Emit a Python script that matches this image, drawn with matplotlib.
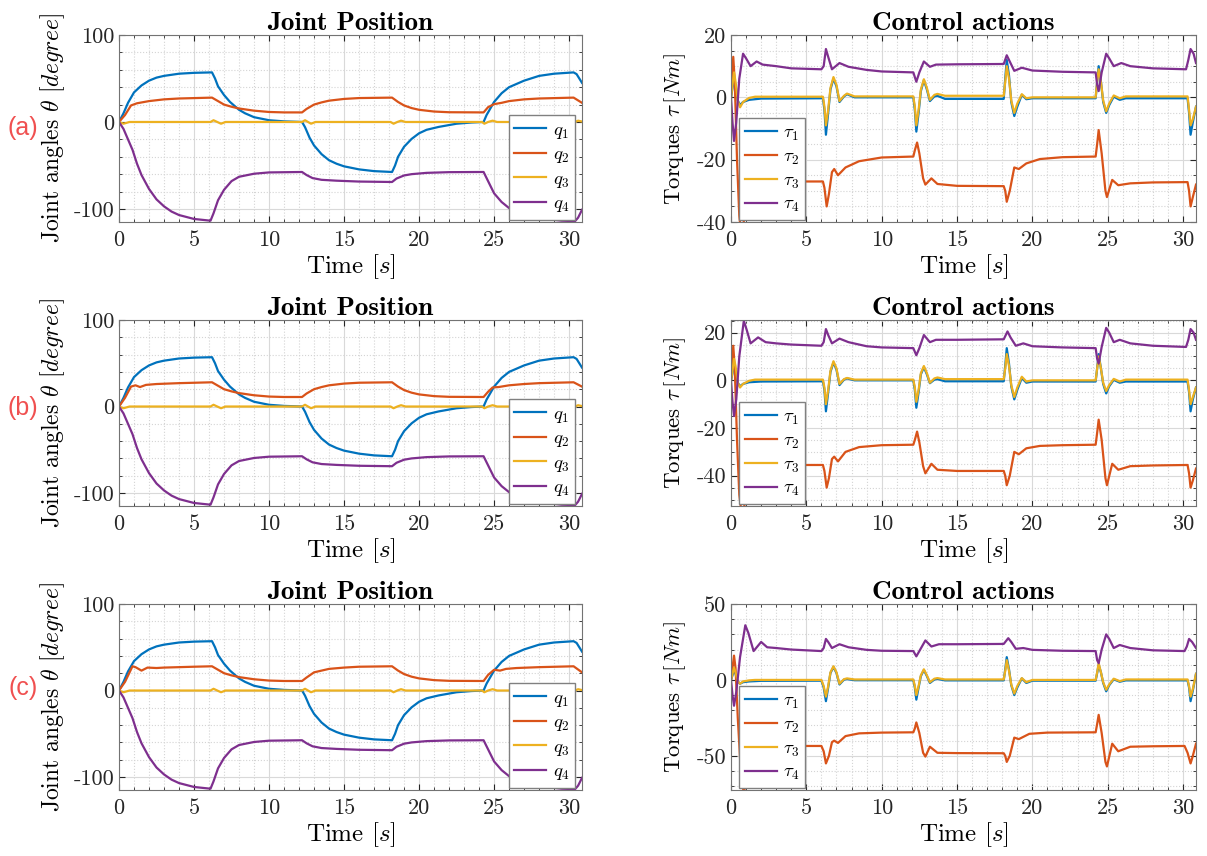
import matplotlib
matplotlib.use("Agg")
import matplotlib.pyplot as plt
from matplotlib.ticker import MultipleLocator

plt.rcParams["font.family"] = "cmr10"
plt.rcParams["mathtext.fontset"] = "cm"
plt.rcParams["axes.formatter.use_mathtext"] = False
plt.rcParams["axes.unicode_minus"] = False

# --- time axis ---
T_MAX = 30.86

# --- Joint positions (t, degree) ---
q1_pts = [(0, 0), (0.3, 10), (0.6, 22), (1, 34), (1.5, 42), (2, 47.5), (2.5, 51), (3, 53),
          (4, 55.5), (5, 56.5), (6.2, 57), (6.4, 50), (6.6, 41), (7, 31), (7.4, 23), (8, 14),
          (8.4, 10), (9, 5.5), (10, 2), (11, 0.7), (12.2, 0), (12.4, -6), (12.7, -18), (13, -27),
          (13.5, -37), (14, -44), (14.5, -48), (15, -51), (16, -54.5), (17, -56.5), (18.2, -57.5),
          (18.4, -50), (18.6, -40), (19, -28.5), (19.5, -19.5), (20, -13), (20.5, -9), (21.3, -5.7),
          (22.5, -2), (23.5, -0.6), (24.3, 0), (24.5, 8), (25, 23), (25.5, 33), (26, 40),
          (27, 47.5), (28, 53), (29, 55.5), (30.3, 57), (30.5, 55), (30.86, 45)]

q3_pts = [(0, 0), (0.3, -2), (0.7, 0), (6.1, 0), (6.3, 2), (6.55, 0), (6.8, -2), (7.1, 0),
          (12.2, 0), (12.4, 2), (12.6, 0), (12.8, -2), (13.1, 0), (18.1, 0), (18.3, -2),
          (18.55, 0), (18.8, 1.5), (19.1, 0), (24.2, 0), (24.35, -2), (24.6, 0), (24.9, 1.5),
          (25.2, 0), (30.4, 0), (30.6, 1.5), (30.86, 0.5)]

q4_pts = [(0, 0), (0.3, -8), (0.6, -20), (0.9, -32), (1.2, -48), (1.5, -61), (2, -77),
          (2.5, -89), (3, -97), (3.5, -103), (4, -107), (5, -111.5), (6.1, -113.5), (6.3, -105),
          (6.6, -90), (7, -78), (7.5, -68), (8, -63), (9, -59.5), (10, -58), (12.2, -57.5),
          (12.5, -61), (12.9, -64.5), (13.5, -66.5), (14.5, -67.5), (16, -68.5), (18.2, -69),
          (18.5, -65), (19, -61.5), (19.5, -60), (20.5, -58.5), (22, -57.7), (24.3, -57.5),
          (24.6, -68), (25, -82), (25.5, -92), (26, -99), (26.7, -104), (27.5, -108),
          (28.5, -111.5), (29.5, -113.5), (30.4, -114), (30.6, -110), (30.86, -101)]

q2_a_pts = [(0, 0), (0.4, 8), (0.8, 19), (1.2, 21.5), (2, 24), (3, 26), (4, 27), (6.2, 28),
            (6.6, 24), (7, 20), (7.5, 17.5), (8, 15.5), (9, 13), (10, 11.5), (11, 11), (12.2, 11),
            (12.5, 15), (13, 20), (13.5, 22.5), (14, 24.5), (15, 26.5), (16, 27.5), (18.2, 28),
            (18.6, 23), (19, 19), (19.5, 16), (20, 14), (21, 12), (22, 11.2), (24.3, 11),
            (24.6, 17), (25, 20.5), (25.5, 22), (26, 24), (27, 26), (28, 27), (30.3, 28),
            (30.86, 22)]
q2_b_pts = [(0, 0), (0.4, 10), (0.8, 23), (1.1, 24.5), (1.4, 22.5), (1.8, 25), (2.5, 26), (4, 27),
            (6.2, 28), (6.6, 24), (7, 20), (7.5, 17.5), (8, 15.5), (9, 13), (10, 11.5), (11, 11),
            (12.2, 11), (12.5, 15), (13, 20), (13.5, 22.5), (14, 24.5), (15, 26.5), (16, 27.5),
            (18.2, 28), (18.6, 23), (19, 19), (19.5, 16), (20, 14), (21, 12), (22, 11.2), (24.3, 11),
            (24.6, 17), (24.9, 22), (25.3, 22.5), (26, 24.5), (27, 26), (28, 27), (30.3, 28),
            (30.86, 23)]
q2_c_pts = [(0, 0), (0.4, 10), (0.9, 28), (1.1, 27), (1.5, 23), (1.9, 26.5), (2.5, 26), (3, 26.5),
            (5, 27.5), (6.2, 28), (6.6, 24), (7, 20), (7.5, 17.5), (8, 15.5), (9, 13), (10, 11.5),
            (11, 11), (12.2, 11), (12.5, 15), (13, 21), (13.5, 23), (14, 25), (15, 26.5), (16, 27.5),
            (18.2, 28), (18.6, 23), (19, 19), (19.5, 16), (20, 14), (21, 12), (22, 11.2), (24.3, 11),
            (24.6, 18), (25, 24), (25.4, 23), (25.8, 25), (26.5, 26), (28, 27), (30.3, 28),
            (30.86, 21)]

# --- Torques (t, Nm) ---
tau1_a_pts = [(0, 0), (0.1, 3), (0.2, 6), (0.3, 4), (0.45, -1), (0.6, -2.5), (0.8, -1.5), (1.2, -0.8),
              (2, -0.4), (6.1, -0.3), (6.2, -4), (6.3, -12), (6.45, -5), (6.6, 2.5), (6.8, 6), (7.0, 3.5),
              (7.2, -1.5), (7.5, 0.3), (7.7, 1), (8.2, 0), (12.1, 0), (12.2, -4), (12.3, -11),
              (12.45, -5), (12.6, 2), (12.8, 5.5), (13.0, 2.5), (13.2, -1.2), (13.5, 0.3), (13.7, 0.5),
              (14.2, -0.5), (18.1, -0.5), (18.2, 6), (18.3, 12), (18.45, 7), (18.6, -1.5), (18.8, -6),
              (19.0, -3), (19.3, 0.8), (19.6, -0.6), (20, -0.3), (24.2, -0.3), (24.3, 5), (24.4, 10),
              (24.55, 5), (24.7, -1.5), (24.9, -5), (25.1, -2.5), (25.4, 0.2), (25.8, -0.8),
              (26.2, -0.3), (30.3, -0.3), (30.4, -5), (30.5, -12), (30.65, -8), (30.86, -3)]
tau2_a_pts = [(0, 0), (0.15, 13), (0.25, 5), (0.4, -20), (0.55, -38), (0.7, -45), (0.9, -38),
              (1.1, -30), (1.4, -27.5), (2, -27), (6.1, -27), (6.2, -29), (6.35, -35), (6.5, -31),
              (6.7, -24), (6.85, -23), (7.1, -25), (7.6, -22.5), (8.5, -20.5), (10, -19.3),
              (12.1, -19), (12.2, -17), (12.35, -14.5), (12.5, -18), (12.75, -26), (12.9, -28),
              (13.3, -26), (13.7, -27.8), (15, -28.4), (18.1, -28.5), (18.2, -30), (18.3, -33.5),
              (18.5, -30), (18.8, -22.5), (19.1, -23), (19.6, -21.2), (20.5, -19.8), (22, -19.2),
              (24.2, -19), (24.3, -15), (24.4, -10.5), (24.6, -18), (24.85, -30), (24.95, -32),
              (25.3, -26.5), (25.7, -28.2), (26.5, -27.6), (28, -27.3), (30.3, -27.2), (30.4, -30),
              (30.5, -35), (30.65, -32), (30.86, -28)]
tau3_a_pts = [(0, 0), (0.1, 4), (0.2, 8), (0.3, 5), (0.45, -1), (0.6, -3.2), (0.8, -1.5), (1.2, -0.2),
              (1.6, 0.2), (6.1, 0.2), (6.2, -3), (6.3, -9), (6.45, -4), (6.6, 3), (6.8, 6.5), (7.0, 4),
              (7.2, -1.2), (7.5, 0.5), (7.7, 1.2), (8.2, 0.3), (12.1, 0.3), (12.2, -3), (12.3, -9),
              (12.45, -4), (12.6, 2.5), (12.8, 5.8), (13.0, 3), (13.2, -0.8), (13.5, 0.8), (13.7, 1.1),
              (14.2, 0.5), (18.1, 0.5), (18.2, 5), (18.3, 10), (18.45, 6), (18.6, -1), (18.8, -5),
              (19.0, -2), (19.3, 1), (19.6, -0.3), (20, 0), (24.2, 0), (24.3, 5), (24.4, 9),
              (24.55, 5), (24.7, -1), (24.9, -4.5), (25.1, -2), (25.4, 0.6), (25.8, -0.3),
              (26.2, 0.3), (30.3, 0.3), (30.4, -4), (30.5, -9), (30.65, -7), (30.86, -3)]
tau4_a_pts = [(0, 0), (0.1, -8), (0.2, -14), (0.35, -8), (0.55, 6), (0.8, 14), (1.0, 12.5),
              (1.3, 10), (1.7, 11.5), (2.1, 10.5), (3, 10), (4, 9.3), (6.0, 9), (6.15, 10),
              (6.3, 15.5), (6.45, 13), (6.7, 9), (7.2, 11), (7.8, 9.8), (9, 8.8), (10, 8.3),
              (12.1, 8), (12.3, 5), (12.5, 8), (12.8, 11.5), (13.2, 9.8), (13.6, 10.5), (15, 10.6),
              (18.1, 10.7), (18.3, 13.5), (18.5, 11.5), (18.8, 8.5), (19.3, 9.5), (20, 8.6),
              (22, 8.2), (24.2, 8), (24.3, 4), (24.4, 2), (24.6, 8), (24.9, 14), (25.1, 12.5),
              (25.4, 10), (25.9, 11), (26.5, 10), (28, 9.3), (30.2, 9), (30.35, 12), (30.5, 15.5),
              (30.7, 14), (30.86, 11)]

tau1_b_pts = [(0, 0), (0.1, 3), (0.2, 7), (0.3, 4), (0.45, -1), (0.6, -2.5), (0.8, -1.5), (1.2, -0.8),
              (2, -0.5), (6.1, -0.4), (6.2, -4), (6.3, -13), (6.45, -5), (6.6, 3.5), (6.8, 7.5),
              (7.0, 4.5), (7.2, -2), (7.5, 0.3), (7.7, 0.8), (8.2, 0), (12.1, 0), (12.2, -4),
              (12.3, -11.5), (12.45, -5), (12.6, 2.5), (12.8, 5.5), (13.0, 2.5), (13.2, -1.2),
              (13.5, 0.3), (13.7, 0.5), (14.2, -0.4), (18.1, -0.4), (18.2, 6), (18.3, 13.5),
              (18.45, 7), (18.6, -2.5), (18.8, -8), (19.0, -4), (19.3, 1), (19.6, -1), (20, -0.5),
              (24.2, -0.5), (24.3, 5), (24.4, 11), (24.55, 5), (24.7, -1.5), (24.9, -5.5),
              (25.1, -2.5), (25.4, 0.2), (25.8, -1), (26.2, -0.5), (30.3, -0.5), (30.4, -5),
              (30.5, -13), (30.65, -8), (30.86, -3)]
tau2_b_pts = [(0, 0), (0.15, 14.5), (0.25, 5), (0.4, -25), (0.55, -48), (0.75, -58), (0.95, -50),
              (1.15, -40), (1.4, -36), (2, -35.5), (6.1, -35.5), (6.2, -38), (6.35, -45), (6.5, -41),
              (6.7, -33), (6.85, -32), (7.1, -34), (7.6, -30), (8.5, -28), (10, -27.2), (12.1, -27),
              (12.2, -25), (12.35, -21.5), (12.5, -26), (12.75, -36), (12.9, -39), (13.3, -35),
              (13.7, -37.5), (15, -38), (18.1, -38), (18.2, -40), (18.3, -44), (18.5, -40),
              (18.8, -30), (19.1, -31), (19.6, -28.5), (20.5, -27.5), (22, -27.2), (24.2, -27),
              (24.3, -22), (24.4, -16.5), (24.6, -25), (24.85, -41), (24.95, -44), (25.3, -35),
              (25.7, -37.5), (26.5, -36), (28, -35.7), (30.3, -35.5), (30.4, -39), (30.5, -45),
              (30.65, -42), (30.86, -37)]
tau3_b_pts = [(0, 0), (0.1, 4), (0.2, 9), (0.3, 6), (0.45, -1), (0.6, -3), (0.8, -1.5), (1.2, -0.2),
              (1.6, 0.3), (6.1, 0.3), (6.2, -3), (6.3, -10), (6.45, -4), (6.6, 4), (6.8, 8), (7.0, 5),
              (7.2, -1.5), (7.5, 0.5), (7.7, 1), (8.2, 0.3), (12.1, 0.3), (12.2, -3), (12.3, -9),
              (12.45, -4), (12.6, 3), (12.8, 6), (13.0, 3), (13.2, -1), (13.5, 0.8), (13.7, 1.2),
              (14.2, 0.5), (18.1, 0.5), (18.2, 5), (18.3, 11), (18.45, 6), (18.6, -2), (18.8, -7),
              (19.0, -3), (19.3, 1.5), (19.6, -0.5), (20, 0), (24.2, 0), (24.3, 5), (24.4, 10),
              (24.55, 5), (24.7, -1), (24.9, -4.5), (25.1, -2), (25.4, 0.6), (25.8, -0.5),
              (26.2, 0.3), (30.3, 0.3), (30.4, -4), (30.5, -10), (30.65, -7), (30.86, -3)]
tau4_b_pts = [(0, 0), (0.1, -9), (0.2, -15), (0.35, -8), (0.55, 10), (0.85, 25), (1.05, 21),
              (1.3, 15.5), (1.8, 18), (2.3, 16), (3, 15.5), (4, 15), (6.0, 14.5), (6.15, 16),
              (6.3, 21.5), (6.45, 19), (6.7, 15.5), (7.2, 17.5), (7.8, 16), (9, 14.3), (10, 13.8),
              (12.1, 13.5), (12.3, 10.5), (12.5, 13.5), (12.8, 19), (13.2, 16), (13.6, 17), (15, 17),
              (18.1, 17.2), (18.35, 20.5), (18.55, 18), (18.9, 14.5), (19.4, 15.5), (20, 14.3),
              (22, 13.8), (24.2, 13.5), (24.3, 9), (24.4, 7), (24.6, 14), (24.9, 22), (25.1, 20),
              (25.4, 16), (25.8, 17), (26.5, 15.5), (28, 14.5), (30.2, 14), (30.35, 17), (30.5, 21.5),
              (30.7, 20), (30.86, 17)]

tau1_c_pts = [(0, 0), (0.1, 3), (0.2, 7), (0.3, 4), (0.45, -1), (0.6, -2.5), (0.8, -1.5), (1.2, -1),
              (2, -0.6), (6.0, -0.5), (6.15, -5), (6.3, -14), (6.45, -5), (6.6, 4.5), (6.8, 8.5),
              (7.0, 4.5), (7.2, -3), (7.5, 0.2), (7.7, 0.6), (8.2, -0.2), (12.1, -0.2), (12.2, -5),
              (12.3, -13), (12.45, -5), (12.6, 2.5), (12.8, 6.5), (13.0, 2.5), (13.2, -2),
              (13.5, 0.3), (13.7, 0.7), (14.2, -0.3), (18.1, -0.3), (18.2, 7), (18.3, 15),
              (18.45, 7), (18.6, -3.5), (18.8, -10), (19.0, -5), (19.3, 1), (19.6, -2), (20, -0.5),
              (24.2, -0.5), (24.3, 4.5), (24.4, 10), (24.55, 5), (24.7, -2), (24.9, -7.5),
              (25.1, -3.5), (25.4, 0.4), (25.8, -1.2), (26.2, -0.3), (30.3, -0.3), (30.4, -5),
              (30.5, -14), (30.65, -7), (30.86, 4)]
tau2_c_pts = [(0, 0), (0.2, 16), (0.3, 8), (0.45, -25), (0.65, -60), (0.85, -75), (1.05, -62),
              (1.25, -48), (1.5, -44), (2, -43.5), (6.0, -43.5), (6.15, -47), (6.3, -55), (6.5, -50),
              (6.7, -41), (6.85, -40), (7.1, -41.5), (7.6, -37), (8.5, -35.2), (10, -34.7),
              (12.1, -34.5), (12.2, -32), (12.3, -28), (12.5, -35), (12.75, -48), (12.9, -50.5),
              (13.2, -44), (13.7, -48), (15, -48.2), (18.1, -48.3), (18.2, -50), (18.3, -54),
              (18.5, -50), (18.8, -38), (19.1, -39), (19.8, -35.5), (21, -34.7), (24.2, -34.5),
              (24.3, -29), (24.4, -23), (24.6, -35), (24.85, -54), (24.95, -57), (25.3, -42),
              (25.7, -47), (26.5, -44), (28, -43.7), (30.1, -43.5), (30.3, -48), (30.5, -55),
              (30.65, -50), (30.86, -42)]
tau3_c_pts = [(0, 0), (0.1, 4), (0.2, 8), (0.3, 5), (0.45, -1), (0.6, -2.5), (0.8, -1), (1.2, -0.3),
              (1.6, 0), (6.0, 0), (6.15, -4), (6.3, -11), (6.45, -4), (6.6, 5), (6.8, 9), (7.0, 5),
              (7.2, -2.5), (7.5, 0.5), (7.7, 1), (8.2, 0.3), (12.1, 0.3), (12.2, -4), (12.3, -10),
              (12.45, -4), (12.6, 3), (12.8, 7), (13.0, 3), (13.2, -1.5), (13.5, 0.8), (13.7, 1.2),
              (14.2, 0.3), (18.1, 0.3), (18.2, 6), (18.3, 13), (18.45, 6), (18.6, -3), (18.8, -9),
              (19.0, -4), (19.3, 1.2), (19.6, -1.5), (20, 0), (24.2, 0), (24.3, 5), (24.4, 11),
              (24.55, 5), (24.7, -1.5), (24.9, -6.5), (25.1, -3), (25.4, 0.8), (25.8, -0.8),
              (26.2, 0.3), (30.3, 0.3), (30.4, -4), (30.5, -11), (30.65, -6), (30.86, 4)]
tau4_c_pts = [(0, 0), (0.1, -10), (0.2, -17), (0.35, -8), (0.6, 15), (0.95, 36), (1.15, 31),
              (1.5, 19), (2.0, 25), (2.4, 21.5), (3, 21), (4, 20), (6.0, 19), (6.15, 21), (6.3, 27),
              (6.45, 25), (6.7, 21), (7.2, 23.5), (7.8, 21.5), (9, 19.8), (10, 19.2), (12.1, 19),
              (12.3, 15.5), (12.5, 19), (12.9, 26), (13.3, 22), (13.8, 23.5), (15, 23.5),
              (18.1, 23.7), (18.4, 27.5), (18.6, 25), (18.9, 20.5), (19.4, 21), (20, 19.8),
              (22, 19.2), (24.2, 19), (24.3, 13), (24.4, 11), (24.6, 20), (24.9, 30), (25.1, 27),
              (25.4, 21), (25.8, 23), (26.5, 21), (28, 19.5), (30.1, 19), (30.25, 22), (30.4, 27),
              (30.6, 25), (30.86, 21)]

row_tags = ["(a)", "(b)", "(c)"]
q_sets = [
    [q1_pts, q2_a_pts, q3_pts, q4_pts],
    [q1_pts, q2_b_pts, q3_pts, q4_pts],
    [q1_pts, q2_c_pts, q3_pts, q4_pts],
]
tau_sets = [
    [tau1_a_pts, tau2_a_pts, tau3_a_pts, tau4_a_pts],
    [tau1_b_pts, tau2_b_pts, tau3_b_pts, tau4_b_pts],
    [tau1_c_pts, tau2_c_pts, tau3_c_pts, tau4_c_pts],
]
tau_ylims = [(-40, 20), (-52.7, 25.3), (-72.5, 50)]
tau_major = [20, 20, 50]
tau_minor = [5, 5, 10]
q_labels = [r"$q_1$", r"$q_2$", r"$q_3$", r"$q_4$"]
tau_labels = [r"$\tau_1$", r"$\tau_2$", r"$\tau_3$", r"$\tau_4$"]

colors = ["#0072BD", "#D95319", "#EDB120", "#7E2F8E"]

W, H = 1207, 856
fig = plt.figure(figsize=(W / 100, H / 100), dpi=100)

# axes boxes in pixels: (left, right) and (top, bottom)
left_cols = (119, 582)
right_cols = (731, 1196)
rows_px = [(35, 222), (320, 506), (604, 790)]
tag_y = [128, 408, 688]


def px_axes(x0, x1, y0, y1):
    return fig.add_axes([x0 / W, 1 - y1 / H, (x1 - x0) / W, (y1 - y0) / H])


def style(ax, ymaj, ymin):
    ax.set_xlim(0, T_MAX)
    ax.xaxis.set_major_locator(MultipleLocator(5))
    ax.xaxis.set_minor_locator(MultipleLocator(1))
    ax.yaxis.set_major_locator(MultipleLocator(ymaj))
    ax.yaxis.set_minor_locator(MultipleLocator(ymin))
    ax.grid(True, which="major", color="#d9d9d9", linewidth=0.8)
    ax.grid(True, which="minor", color="#d4d4d4", linestyle=":", linewidth=0.8)
    ax.set_axisbelow(True)
    ax.tick_params(which="both", direction="in", top=True, right=True,
                   labelsize=16, colors="0.15", length=4)
    ax.tick_params(axis="x", pad=6)
    ax.tick_params(which="minor", length=2)
    for s in ax.spines.values():
        s.set_color("0.45")
        s.set_linewidth(0.8)
    ax.set_xlabel(r"Time $[s]$", fontsize=18, labelpad=2)


def add_legend(ax, labels_loc, anchor):
    ax.legend(loc=labels_loc, bbox_to_anchor=anchor, borderaxespad=0,
              fontsize=13.5, handlelength=1.7, fancybox=False, framealpha=1,
              edgecolor="0.5", labelspacing=0.25, handletextpad=0.35,
              borderpad=0.3)


for r in range(3):
    y0, y1 = rows_px[r]

    # joint positions
    ax = px_axes(left_cols[0], left_cols[1], y0, y1)
    for pts, c, lab in zip(q_sets[r], colors, q_labels):
        t, v = zip(*pts)
        ax.plot(t, v, color=c, linewidth=1.6, label=lab)
    ax.set_ylim(-115, 100)
    style(ax, 100, 20)
    ax.set_title("Joint Position", fontsize=19.5, fontfamily="cmb10", pad=3)
    ax.set_ylabel(r"Joint angles $\theta$ $[degree]$", fontsize=17)
    ax.yaxis.set_label_coords(-52 / 463, 0.5)
    add_legend(ax, "lower right", (1 - 7 / 463, 2 / 187))

    # control actions
    ax = px_axes(right_cols[0], right_cols[1], y0, y1)
    for pts, c, lab in zip(tau_sets[r], colors, tau_labels):
        t, v = zip(*pts)
        ax.plot(t, v, color=c, linewidth=1.6, label=lab)
    ax.set_ylim(*tau_ylims[r])
    style(ax, tau_major[r], tau_minor[r])
    ax.set_title("Control actions", fontsize=19.5, fontfamily="cmb10", pad=3)
    ax.set_ylabel(r"Torques $\tau\,[Nm]$", fontsize=16.5)
    ax.yaxis.set_label_coords(-43 / 465, 0.5)
    add_legend(ax, "lower left", (8 / 465, 2 / 186))

    # row tag
    fig.text(23 / W, 1 - tag_y[r] / H, row_tags[r], color="#F05050",
             fontsize=18, family="Liberation Sans", ha="center", va="center")

fig.savefig("out.png", dpi=100)
